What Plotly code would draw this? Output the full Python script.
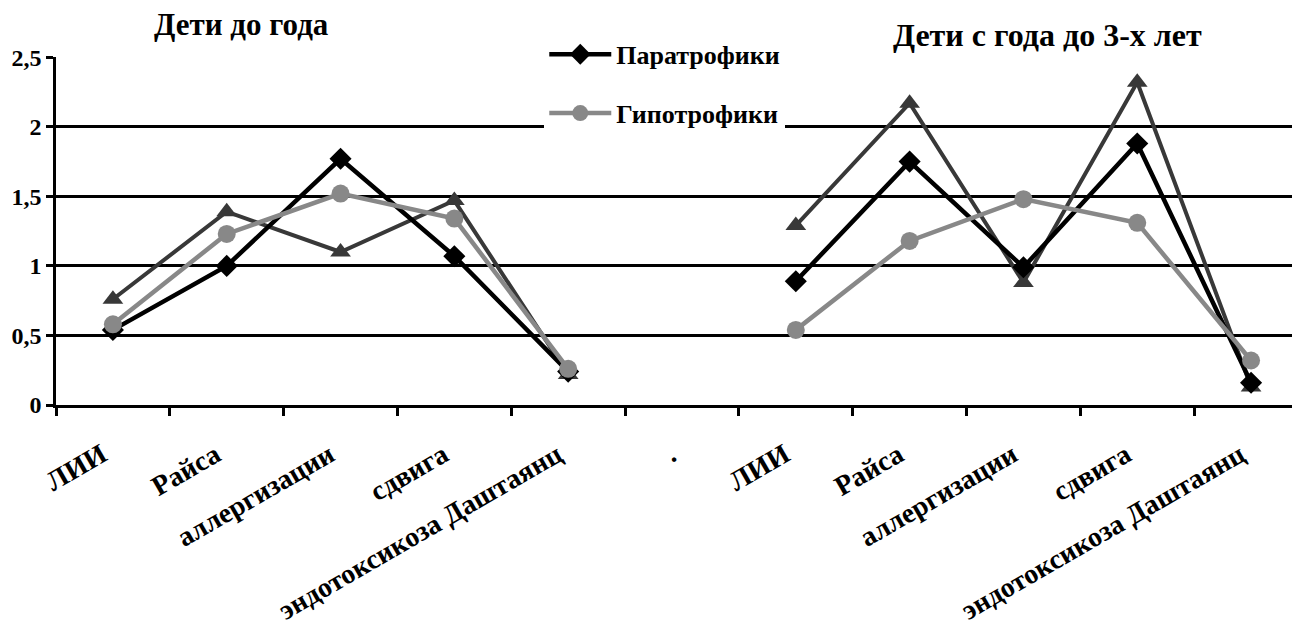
import plotly.graph_objects as go

categories = ["ЛИИ", "Райса", "аллергизации", "сдвига", "эндотоксикоза Даштаянц", ".",
              "ЛИИ", "Райса", "аллергизации", "сдвига", "эндотоксикоза Даштаянц"]
paratrofiki = [0.54, 1.00, 1.77, 1.07, 0.24, None, 0.89, 1.75, 0.99, 1.88, 0.16]
gipotrofiki = [0.58, 1.23, 1.52, 1.34, 0.26, None, 0.54, 1.18, 1.48, 1.31, 0.32]
third_series = [0.76, 1.39, 1.10, 1.47, 0.22, None, 1.29, 2.17, 0.88, 2.32, 0.13]
y_ticks = [0, 0.5, 1, 1.5, 2, 2.5]
y_ticktext = ["0", "0,5", "1", "1,5", "2", "2,5"]
titles = ["Дети до года", "Дети с года до 3-х лет"]

FONT = "Liberation Serif"
x = list(range(len(categories)))

fig = go.Figure()
fig.add_trace(go.Scatter(x=x, y=third_series, name="Эйтрофики", mode="lines+markers",
                         line=dict(color="#383838", width=4),
                         marker=dict(symbol="triangle-up", size=18, color="#383838"),
                         showlegend=False))
fig.add_trace(go.Scatter(x=x, y=paratrofiki, name="Паратрофики", mode="lines+markers",
                         line=dict(color="#000000", width=4.5),
                         marker=dict(symbol="diamond", size=17, color="#000000"),
                         legendgroup="a"))
fig.add_trace(go.Scatter(x=x, y=gipotrofiki, name="Гипотрофики", mode="lines+markers",
                         line=dict(color="#888888", width=4.5),
                         marker=dict(symbol="circle", size=18, color="#888888"),
                         legendgroup="b"))

# page body has an 8px margin, so the figure is 1292x618 placed at (8, 8)
fig.update_layout(
    width=1292, height=618,
    margin=dict(l=48, r=0, t=49, b=221, autoexpand=False),
    paper_bgcolor="white", plot_bgcolor="white",
    font=dict(family=FONT, size=22, color="black"),
    legend=dict(x=0.3925, y=0.963, xanchor="left", yanchor="top", yref="container",
                bgcolor="white", font=dict(family=FONT, size=26, color="black", weight="bold"),
                traceorder="grouped", tracegroupgap=22, itemwidth=62),
    annotations=[
        dict(text="<b>" + titles[0] + "</b>", x=0.1495, y=1.092, xref="paper", yref="paper",
             xanchor="center", yanchor="middle", showarrow=False,
             font=dict(family=FONT, size=31)),
        dict(text="<b>" + titles[1] + "</b>", x=0.797, y=1.063, xref="paper", yref="paper",
             xanchor="center", yanchor="middle", showarrow=False,
             font=dict(family=FONT, size=32)),
    ],
)
fig.update_xaxes(
    range=[-0.5, 10.43], tickmode="array", tickvals=x, ticktext=categories,
    tickangle=-30, ticks="", showgrid=False, zeroline=False, automargin=False,
    showline=True, linecolor="black", linewidth=2.5,
    ticklabelstandoff=20, ticklabelshift=-11,
    tickfont=dict(family=FONT, size=28, color="black", weight="bold"),
    minor=dict(tickmode="linear", tick0=-0.5, dtick=1, ticks="outside", ticklen=8,
               tickwidth=2.5, tickcolor="black", showgrid=False),
)
fig.update_yaxes(
    range=[0, 2.502], tickmode="array", tickvals=y_ticks, ticktext=y_ticktext,
    showgrid=True, gridcolor="black", gridwidth=2.5, zeroline=False, automargin=False,
    showline=True, linecolor="black", linewidth=2.5,
    ticks="outside", ticklen=7, tickwidth=2.5, tickcolor="black",
    tickfont=dict(family=FONT, size=24, color="black", weight="bold"),
)

fig.write_html("out.html")
